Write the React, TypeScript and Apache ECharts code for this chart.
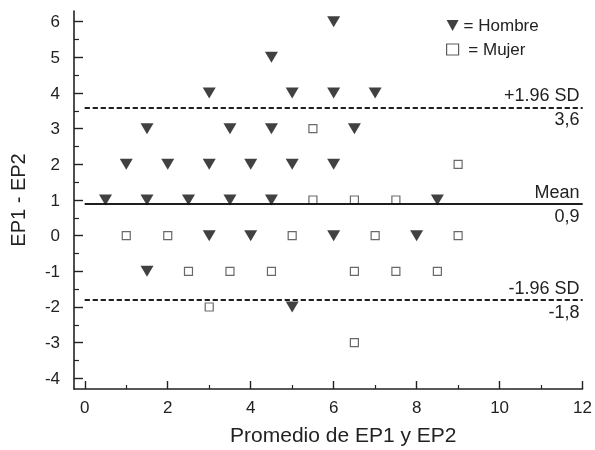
import React, { useEffect, useRef } from "react";
import * as echarts from "echarts";

const hombreX = [6, 4.5, 3, 5, 6, 7, 1.5, 3.5, 4.5, 6.5, 1, 2, 3, 4, 5, 6, 0.5, 1.5, 2.5, 3.5, 4.5, 8.5, 3, 4, 6, 8, 1.5, 5];
const hombreY = [6, 5, 4, 4, 4, 4, 3, 3, 3, 3, 2, 2, 2, 2, 2, 2, 1, 1, 1, 1, 1, 1, 0, 0, 0, 0, -1, -2];
const mujerX = [5.5, 9, 5.5, 6.5, 7.5, 1, 2, 5, 7, 9, 2.5, 3.5, 4.5, 6.5, 7.5, 8.5, 3, 6.5];
const mujerY = [3, 2, 1, 1, 1, 0, 0, 0, 0, 0, -1, -1, -1, -1, -1, -1, -2, -3];

const limitValues = [3.6, 0.9, -1.8];
const limitNames = ["+1.96 SD", "Mean", "-1.96 SD"];
const limitTexts = ["3,6", "0,9", "-1,8"];
const limitDashed = [true, false, true];

const xMajorTicks = [0, 2, 4, 6, 8, 10, 12];
const xMinorTicks = [1, 3, 5, 7, 9, 11];
const yMajorTicks = [-4, -3, -2, -1, 0, 1, 2, 3, 4, 5, 6];
const yMinorTicks = [-3.5, -2.5, -1.5, -0.5, 0.5, 1.5, 2.5, 3.5, 4.5, 5.5];

const FONT = "'Liberation Sans', Arial, Helvetica, sans-serif";
const TRI = "path://M0,0L10,0L5,9Z";

export default function App() {
  const ref = useRef<HTMLDivElement>(null);
  useEffect(() => {
    const chart = echarts.init(ref.current!, null, { renderer: "svg" });
    const markData: any[] = [];
    limitValues.forEach((v, i) => {
      const ls = { color: "#111", width: 1.6, type: limitDashed[i] ? [5, 3] : "solid" };
      markData.push([
        { coord: [0, v], lineStyle: ls, label: { show: true, position: "insideEndTop", formatter: limitNames[i], distance: 3 } },
        { coord: [12, v] },
      ]);
      markData.push([
        { coord: [0, v], lineStyle: ls, label: { show: true, position: "insideEndBottom", formatter: limitTexts[i], distance: 3 } },
        { coord: [12, v] },
      ]);
    });
    chart.setOption({
      animation: false,
      textStyle: { fontFamily: FONT },
      grid: { left: 72, right: 12, top: 11, bottom: 59 },
      legend: {
        orient: "vertical",
        left: 441,
        top: 12,
        itemGap: 7,
        itemWidth: 12,
        itemHeight: 11,
        formatter: (name: string) => (name === "Mujer" ? " = Mujer" : "= Hombre"),
        textStyle: { fontSize: 17, color: "#222", fontFamily: FONT },
        data: [
          { name: "Hombre", icon: TRI, itemStyle: { color: "#111" } },
          { name: "Mujer", icon: "rect", itemStyle: { color: "#fff", borderColor: "#333", borderWidth: 1.2 } },
        ],
      },
      xAxis: [
        {
          type: "value",
          min: -0.26,
          max: 12,
          position: "bottom",
          splitLine: { show: false },
          axisLine: { show: true, onZero: false, lineStyle: { color: "#222", width: 1.6 } },
          name: "Promedio de EP1 y EP2",
          nameLocation: "middle",
          nameGap: 35,
          nameTextStyle: { fontSize: 21, color: "#222", fontFamily: FONT, padding: [0, 0, 0, 30] },
          axisTick: { inside: true, length: 8, customValues: xMajorTicks, lineStyle: { color: "#222", width: 1.4 } },
          axisLabel: { customValues: xMajorTicks, fontSize: 17, color: "#222", margin: 10, fontFamily: FONT },
        },
        {
          type: "value",
          min: -0.26,
          max: 12,
          position: "bottom",
          splitLine: { show: false },
          axisLine: { show: false, onZero: false },
          axisTick: { inside: true, length: 4, customValues: xMinorTicks, lineStyle: { color: "#222", width: 1.2 } },
          axisLabel: { show: false },
        },
      ],
      yAxis: [
        {
          type: "value",
          min: -4.3,
          max: 6.3,
          position: "left",
          splitLine: { show: false },
          axisLine: { show: true, onZero: false, lineStyle: { color: "#222", width: 1.6 } },
          name: "EP1 - EP2",
          nameLocation: "middle",
          nameGap: 46,
          nameTextStyle: { fontSize: 20, color: "#222", fontFamily: FONT },
          axisTick: { inside: true, length: 9, customValues: yMajorTicks, lineStyle: { color: "#222", width: 1.4 } },
          axisLabel: { customValues: yMajorTicks, fontSize: 17, color: "#222", margin: 14, fontFamily: FONT },
        },
        {
          type: "value",
          min: -4.3,
          max: 6.3,
          position: "left",
          splitLine: { show: false },
          axisLine: { show: false, onZero: false },
          axisTick: { inside: true, length: 5, customValues: yMinorTicks, lineStyle: { color: "#222", width: 1.2 } },
          axisLabel: { show: false },
        },
      ],
      series: [
        {
          name: "Hombre",
          type: "scatter",
          symbol: TRI,
          symbolSize: [13, 11],
          itemStyle: { color: "#111" },
          data: hombreX.map((x, i) => [x, hombreY[i]]),
          z: 3,
          markLine: {
            silent: true,
            symbol: "none",
            label: { fontSize: 18, color: "#222", fontFamily: FONT },
            data: markData,
          },
        },
        {
          name: "Mujer",
          type: "scatter",
          symbol: "rect",
          symbolSize: 8,
          itemStyle: { color: "#fff", borderColor: "#444", borderWidth: 1.2 },
          data: mujerX.map((x, i) => [x, mujerY[i]]),
          z: 3,
        },
      ],
    });
    return () => chart.dispose();
  }, []);
  return <div ref={ref} style={{ position: "fixed", left: 0, top: 0, width: 595, height: 450 }} />;
}
